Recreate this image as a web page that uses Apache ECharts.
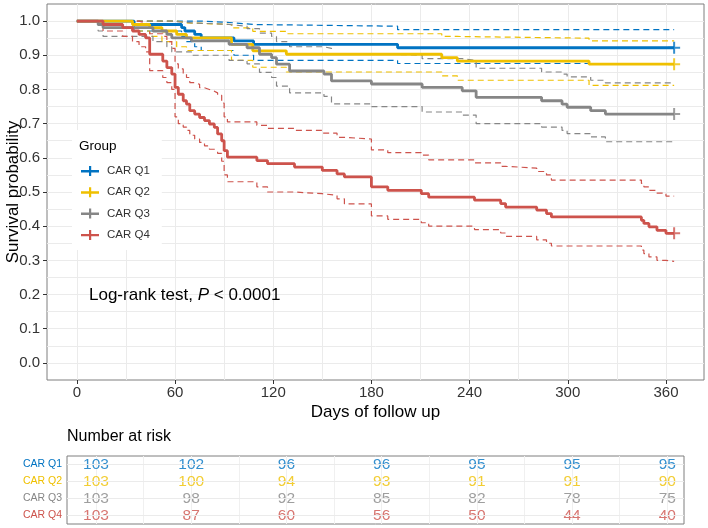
<!DOCTYPE html>
<html>
<head>
<meta charset="utf-8">
<script src="https://cdn.jsdelivr.net/npm/echarts@6/dist/echarts.min.js"></script>
</head>
<body style="margin:0">
<div id="main" style="width:708px;height:528px"></div>
<script>
// groups and colours
var groups = ['CAR Q1', 'CAR Q2', 'CAR Q3', 'CAR Q4'];
var colors = ['#0073C2', '#EFC000', '#868686', '#CD534C'];

// Kaplan-Meier steps (day, survival, upper CI, lower CI)
var q1Time  = [0, 35, 64, 66, 72, 76, 96, 108, 196, 365];
var q1Surv  = [1, 0.990, 0.981, 0.971, 0.961, 0.951, 0.942, 0.932, 0.922, 0.922];
var q1Upper = [1, 1, 1, 1, 1, 0.995, 0.990, 0.985, 0.975, 0.975];
var q1Lower = [1, 0.971, 0.955, 0.940, 0.925, 0.914, 0.900, 0.885, 0.876, 0.876];

var q2Time  = [0, 34, 44.5, 52, 61, 67, 94.5, 107.5, 128, 223, 232.5, 313, 365];
var q2Surv  = [1, 0.990, 0.981, 0.971, 0.961, 0.951, 0.932, 0.913, 0.903, 0.893, 0.883, 0.874, 0.874];
var q2Upper = [1, 1, 1, 1, 0.995, 0.990, 0.980, 0.970, 0.963, 0.955, 0.950, 0.942, 0.942];
var q2Lower = [1, 0.971, 0.955, 0.940, 0.925, 0.914, 0.885, 0.865, 0.851, 0.840, 0.827, 0.812, 0.812];

var q3Time  = [0, 13, 16, 46.5, 55, 58, 70, 93, 104, 111.6, 119, 122, 130, 151, 155.6, 180, 211, 235.5, 244, 284, 296.5, 299.6, 314, 323, 365];
var q3Surv  = [1, 0.990, 0.981, 0.971, 0.961, 0.951, 0.942, 0.932, 0.922, 0.903, 0.893, 0.874, 0.854, 0.845, 0.825, 0.816, 0.806, 0.796, 0.777, 0.767, 0.757, 0.748, 0.738, 0.728, 0.728];
var q3Upper = [1, 1, 1, 1, 1, 0.995, 0.990, 0.985, 0.978, 0.965, 0.955, 0.940, 0.925, 0.920, 0.905, 0.900, 0.890, 0.885, 0.862, 0.851, 0.845, 0.837, 0.827, 0.819, 0.819];
var q3Lower = [1, 0.971, 0.955, 0.940, 0.925, 0.910, 0.900, 0.885, 0.875, 0.850, 0.835, 0.810, 0.790, 0.780, 0.758, 0.750, 0.734, 0.725, 0.700, 0.690, 0.680, 0.671, 0.661, 0.647, 0.647];

var q4Time  = [0, 16, 28, 34, 38, 42, 44.5, 52.5, 55, 58, 60, 62, 65, 67, 69, 72, 75, 78, 81, 84, 86, 88.5, 90, 92, 110, 116.5, 133, 150, 159, 163.5, 180, 190, 210.5, 215, 243, 259, 262, 281, 287, 290, 345, 346.5, 349.6, 354.5, 360, 365];
var q4Surv  = [1, 0.990, 0.981, 0.971, 0.961, 0.951, 0.903, 0.883, 0.864, 0.845, 0.806, 0.786, 0.767, 0.757, 0.738, 0.728, 0.718, 0.709, 0.699, 0.689, 0.670, 0.650, 0.621, 0.602, 0.592, 0.583, 0.573, 0.563, 0.553, 0.544, 0.515, 0.505, 0.495, 0.485, 0.476, 0.466, 0.456, 0.447, 0.437, 0.427, 0.417, 0.408, 0.398, 0.388, 0.379, 0.379];
var q4Upper = [1, 1, 1, 1, 0.995, 0.990, 0.963, 0.955, 0.940, 0.920, 0.875, 0.860, 0.845, 0.835, 0.820, 0.815, 0.805, 0.800, 0.795, 0.790, 0.783, 0.760, 0.720, 0.705, 0.695, 0.686, 0.680, 0.672, 0.660, 0.655, 0.623, 0.615, 0.608, 0.594, 0.585, 0.575, 0.570, 0.560, 0.550, 0.535, 0.525, 0.515, 0.505, 0.497, 0.488, 0.488];
var q4Lower = [1, 0.971, 0.955, 0.940, 0.925, 0.910, 0.855, 0.835, 0.820, 0.800, 0.720, 0.700, 0.690, 0.680, 0.666, 0.655, 0.645, 0.635, 0.625, 0.620, 0.613, 0.590, 0.550, 0.530, 0.515, 0.500, 0.495, 0.490, 0.480, 0.465, 0.430, 0.420, 0.410, 0.400, 0.390, 0.380, 0.370, 0.360, 0.350, 0.342, 0.330, 0.320, 0.310, 0.300, 0.297, 0.297];

// number at risk table
var riskTimes = [0, 60, 120, 180, 240, 300, 360];
var riskQ1 = [103, 102, 96, 96, 95, 95, 95];
var riskQ2 = [103, 100, 94, 93, 91, 91, 90];
var riskQ3 = [103, 98, 92, 85, 82, 78, 75];
var riskQ4 = [103, 87, 60, 56, 50, 44, 40];

// axis breaks
var xTicks = [0, 60, 120, 180, 240, 300, 360];
var xGrid = [0, 30, 60, 90, 120, 150, 180, 210, 240, 270, 300, 330, 360];
var yTicks = [0, 0.1, 0.2, 0.3, 0.4, 0.5, 0.6, 0.7, 0.8, 0.9, 1.0];
var yGrid = [0, 0.05, 0.1, 0.15, 0.2, 0.25, 0.3, 0.35, 0.4, 0.45, 0.5, 0.55, 0.6, 0.65, 0.7, 0.75, 0.8, 0.85, 0.9, 0.95, 1.0];

var font = '"Liberation Sans", Arial, sans-serif';
var xMin = -18.25, xMax = 383.25, tableMax = 370.5;

var curves = [
  [q1Time, q1Surv, q1Upper, q1Lower],
  [q2Time, q2Surv, q2Upper, q2Lower],
  [q3Time, q3Surv, q3Upper, q3Lower],
  [q4Time, q4Surv, q4Upper, q4Lower]
];
var risks = [riskQ1, riskQ2, riskQ3, riskQ4];

function pairs(t, v) {
  return t.map(function (x, i) { return [x, v[i]]; });
}

var series = [];
// dashed confidence bands first
curves.forEach(function (c, g) {
  [2, 3].forEach(function (k) {
    series.push({
      name: groups[g] + (k === 2 ? ' upper' : ' lower'),
      type: 'line', step: 'end', xAxisIndex: 0, yAxisIndex: 0,
      data: pairs(c[0], c[k]), showSymbol: false, silent: true,
      lineStyle: { color: colors[g], width: 1.2, type: [6, 4] }
    });
  });
});
// survival curves
curves.forEach(function (c, g) {
  series.push({
    name: groups[g], type: 'line', step: 'end', xAxisIndex: 0, yAxisIndex: 0,
    data: pairs(c[0], c[1]), showSymbol: false,
    itemStyle: { color: colors[g] },
    lineStyle: { color: colors[g], width: 2.8 }
  });
});
// censor mark at the end of each curve
curves.forEach(function (c, g) {
  var n = c[0].length - 1;
  series.push({
    name: groups[g] + ' censor', type: 'scatter', xAxisIndex: 0, yAxisIndex: 0,
    data: [[c[0][n], c[1][n]]],
    symbol: 'path://M5,0h2v12H5z M0,5h12v2H0z', symbolSize: 12,
    itemStyle: { color: colors[g] }, z: 3
  });
});
// risk table numbers
risks.forEach(function (r, g) {
  series.push({
    name: groups[g] + ' risk', type: 'scatter', xAxisIndex: 2, yAxisIndex: 2,
    symbolSize: 0,
    data: riskTimes.map(function (t, j) { return [t, groups[g], r[j]]; }),
    label: {
      show: true, position: 'inside', color: colors[g], fontSize: 15.5, fontFamily: font,
      formatter: function (p) { return p.value[2]; }
    },
    markLine: g === 0 ? {
      silent: true, symbol: 'none', label: { show: false },
      lineStyle: { color: '#ebebeb', type: 'solid', width: 1 },
      data: groups.map(function (name) { return { yAxis: name }; })
    } : undefined
  });
});

var rowRich = {};
colors.forEach(function (c, i) { rowRich['g' + i] = { color: c, fontSize: 10.5, fontFamily: font }; });

var chart = echarts.init(document.getElementById('main'));
chart.setOption({
  animation: false,
  backgroundColor: '#fff',
  textStyle: { fontFamily: font },
  title: [
    { text: 'Group', left: 79, top: 139, padding: 0,
      textStyle: { fontSize: 13.5, fontWeight: 'normal', color: '#000' } },
    {
      text: '{a|Log-rank test, }{b|P}{a| < 0.0001}', left: 89, top: 287, padding: 0,
      textStyle: { fontWeight: 'normal', rich: {
        a: { fontSize: 17, color: '#000', fontWeight: 'normal', fontFamily: font },
        b: { fontSize: 17, color: '#000', fontWeight: 'normal', fontStyle: 'italic', fontFamily: font }
      } }
    },
    { text: 'Number at risk', left: 67, top: 429, padding: 0,
      textStyle: { fontSize: 16, fontWeight: 'normal', color: '#000' } }
  ],
  legend: {
    data: groups, orient: 'vertical', left: 72, top: 130,
    padding: [34, 12, 8, 9], itemGap: 7.3, itemWidth: 18, itemHeight: 10,
    backgroundColor: '#fff',
    icon: 'path://M0,4h18v2.4H0z M8,0h2.2v10H8z',
    textStyle: { fontSize: 11.5, color: '#333', lineHeight: 14, padding: [0, 0, 0, 3] }
  },
  grid: [
    { left: 47, top: 4, width: 657, height: 376, show: true, borderColor: '#7f7f7f', borderWidth: 1,
      backgroundColor: '#fff', outerBoundsMode: 'none', containLabel: false },
    { left: 67, top: 456, width: 617, height: 68, show: true, borderColor: '#7f7f7f', borderWidth: 1,
      outerBoundsMode: 'none', containLabel: false }
  ],
  xAxis: [
    {
      gridIndex: 0, type: 'value', min: xMin, max: xMax,
      name: 'Days of follow up', nameLocation: 'middle', nameGap: 24, nameMoveOverlap: false,
      nameTextStyle: { fontSize: 17, color: '#000' },
      axisLine: { show: false, onZero: false },
      axisTick: { show: true, customValues: xTicks, length: 4, lineStyle: { color: '#333' } },
      axisLabel: { customValues: xTicks, fontSize: 15, color: '#333', margin: 5 },
      splitLine: { show: false }
    },
    {
      gridIndex: 0, type: 'value', min: xMin, max: xMax, position: 'bottom',
      axisLine: { show: false, onZero: false }, axisTick: { show: false, customValues: xGrid }, axisLabel: { show: false },
      splitLine: { show: true, lineStyle: { color: '#ebebeb', width: 1 } }
    },
    {
      gridIndex: 1, type: 'value', min: xMin, max: tableMax,
      axisLine: { show: false, onZero: false }, axisTick: { show: false, customValues: xGrid }, axisLabel: { show: false },
      splitLine: { show: true, lineStyle: { color: '#f0f0f0', width: 1 } }
    }
  ],
  yAxis: [
    {
      gridIndex: 0, type: 'value', min: -0.05, max: 1.05,
      name: 'Survival probability', nameLocation: 'middle', nameGap: 25, nameMoveOverlap: false,
      nameTextStyle: { fontSize: 17, color: '#000' },
      axisLine: { show: false, onZero: false },
      axisTick: { show: true, customValues: yTicks, length: 4, lineStyle: { color: '#333' } },
      axisLabel: { customValues: yTicks, fontSize: 15, color: '#333', margin: 7,
        formatter: function (v) { return v.toFixed(1); } },
      splitLine: { show: false }
    },
    {
      gridIndex: 0, type: 'value', min: -0.05, max: 1.05, position: 'left',
      axisLine: { show: false, onZero: false }, axisTick: { show: false, customValues: yGrid }, axisLabel: { show: false },
      splitLine: { show: true, lineStyle: { color: '#ebebeb', width: 1 } }
    },
    {
      gridIndex: 1, type: 'category', data: groups, inverse: true,
      axisLine: { show: false, onZero: false }, axisTick: { show: false },
      axisLabel: { margin: 5, rich: rowRich,
        formatter: function (v, i) { return '{g' + i + '|' + v + '}'; } },
      splitLine: { show: false }
    }
  ],
  series: series
});
</script>
</body>
</html>
